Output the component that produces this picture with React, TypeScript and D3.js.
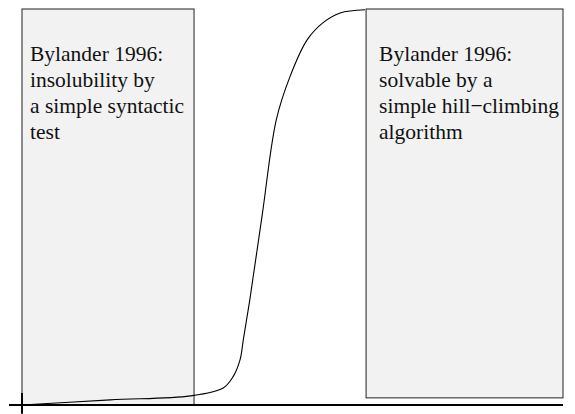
import React from 'react'
import * as d3 from 'd3'

// curve points (fraction of the plot width / height)
const curveX = [0, 0.163, 0.311, 0.372, 0.39, 0.403, 0.409, 0.421, 0.444, 0.47, 0.495, 0.527, 0.556, 0.588, 0.634]
const curveY = [0, 0.013, 0.023, 0.043, 0.071, 0.114, 0.164, 0.265, 0.48, 0.72, 0.828, 0.922, 0.965, 0.99, 0.998]

// shaded regions
const regionX0 = [0, 0.636]
const regionX1 = [0.318, 1]
const regionY0 = [0, 0.018]
const regionY1 = [1, 1]
const regionText = [
  ['Bylander 1996:', 'insolubility by', 'a simple syntactic', 'test'],
  ['Bylander 1996:', 'solvable by a', 'simple hill\u2212climbing', 'algorithm'],
]
const textPad = [8, 13]

const width = 575,
  height = 414
const margin = { left: 22, right: 12, top: 9, bottom: 9 }

export default function App() {
  const x = d3.scaleLinear().domain([0, 1]).range([margin.left, width - margin.right])
  const y = d3.scaleLinear().domain([0, 1]).range([height - margin.bottom, margin.top])

  const pts = curveX.map((d, i) => [d, curveY[i]] as [number, number])
  const line = d3.line<[number, number]>()
    .x((d) => x(d[0]))
    .y((d) => y(d[1]))
    .curve(d3.curveCatmullRom.alpha(0.5))

  return (
    <svg width={width} height={height} style={{ position: 'absolute', left: 0, top: 0, background: '#fff' }}>
      {regionX0.map((x0, i) => (
        <g key={i}>
          <rect
            x={x(x0)}
            y={y(regionY1[i])}
            width={x(regionX1[i]) - x(x0)}
            height={y(regionY0[i]) - y(regionY1[i])}
            fill="#f2f2f2"
            stroke="#222"
            strokeWidth={1}
          />
          {regionText[i].map((l, j) => (
            <text key={j} x={x(x0) + textPad[i]} y={y(regionY1[i]) + 52 + j * 26}
              fontFamily="Liberation Serif" fontSize={21.5} fill="#111">{l}</text>
          ))}
        </g>
      ))}
      <path d={line(pts) || ''} fill="none" stroke="#000" strokeWidth={1.1} />
      {/* axes */}
      <line x1={x(-0.024)} x2={x(1)} y1={y(0)} y2={y(0)} stroke="#000" strokeWidth={2} />
      <line x1={x(0)} x2={x(0)} y1={y(-0.022)} y2={y(0.03)} stroke="#000" strokeWidth={2} />
    </svg>
  )
}
